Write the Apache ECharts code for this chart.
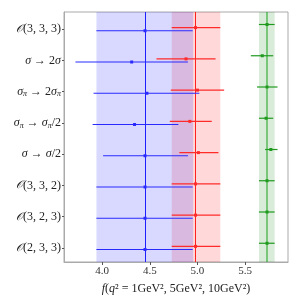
<!DOCTYPE html>
<html>
<head>
<meta charset="utf-8">
<script src="https://cdn.jsdelivr.net/npm/echarts@6/dist/echarts.min.js"></script>
<style>html,body{margin:0;padding:0;background:#fff}#c{width:300px;height:300px}</style>
</head>
<body>
<div id="c"></div>
<script>
// ---- data ----
const categories = ['O(3,3,3)', 'σ→2σ', 'σπ→2σπ', 'σπ→σπ/2', 'σ→σ/2', 'O(3,3,2)', 'O(3,2,3)', 'O(2,3,3)'];
const xTicks = [4.0, 4.5, 5.0, 5.5];

const blueVal = [4.45, 4.31, 4.47, 4.34, 4.45, 4.45, 4.45, 4.45];
const blueLo  = [3.94, 3.72, 3.91, 3.90, 4.01, 3.94, 3.94, 3.94];
const blueHi  = [4.95, 4.90, 5.02, 4.80, 4.90, 4.95, 4.95, 4.95];

const redVal = [4.98, 4.88, 5.00, 4.92, 5.01, 4.98, 4.98, 4.98];
const redLo  = [4.73, 4.57, 4.72, 4.71, 4.81, 4.73, 4.73, 4.73];
const redHi  = [5.24, 5.19, 5.28, 5.15, 5.22, 5.24, 5.24, 5.24];

const greenVal = [5.73, 5.68, 5.73, 5.72, 5.77, 5.73, 5.73, 5.73];
const greenLo  = [5.645, 5.56, 5.625, 5.645, 5.71, 5.645, 5.645, 5.645];
const greenHi  = [5.81, 5.795, 5.84, 5.795, 5.84, 5.81, 5.81, 5.81];

// reference bands [low, high] and central lines
const blueBand = [3.94, 4.955], blueLine = 4.45;
const redBand = [4.73, 5.24], redLine = 4.98;
const greenBand = [5.645, 5.81], greenLine = 5.73;

// ---- chart ----
const rowLabels = {
  'O(3,3,3)': '{o|𝒪}(3, 3, 3)',
  'σ→2σ': '{i|σ} → 2{i|σ}',
  'σπ→2σπ': '{i|σ}{s|π} → 2{i|σ}{s|π}',
  'σπ→σπ/2': '{i|σ}{s|π} → {i|σ}{s|π}/2',
  'σ→σ/2': '{i|σ} → {i|σ}/2',
  'O(3,3,2)': '{o|𝒪}(3, 3, 2)',
  'O(3,2,3)': '{o|𝒪}(3, 2, 3)',
  'O(2,3,3)': '{o|𝒪}(2, 3, 3)'
};
const serif = 'Liberation Serif';
function errSeries(name, vals, lo, hi, off, color, z) {
  return {
    type: 'custom', name, z,
    data: vals.map((v, i) => [lo[i], hi[i], i + off, v]),
    encode: { x: [0, 1], y: 2 },
    renderItem: (params, api) => {
      const a = api.coord([api.value(0), api.value(2)]);
      const b = api.coord([api.value(1), api.value(2)]);
      const c = api.coord([api.value(3), api.value(2)]);
      return { type: 'group', children: [
        { type: 'line', shape: { x1: a[0], y1: a[1], x2: b[0], y2: b[1] }, style: { stroke: color, lineWidth: 1.2 } },
        { type: 'rect', shape: { x: c[0] - 1.5, y: c[1] - 1.5, width: 3, height: 3 }, style: { fill: color } }
      ] };
    }
  };
}
function bandSeries(band, line, fill, lineColor, lineWidth, z) {
  return {
    type: 'line', data: [], z, silent: true,
    markArea: { silent: true, itemStyle: { color: fill }, data: [[{ xAxis: band[0] }, { xAxis: band[1] }]] },
    markLine: { silent: true, symbol: 'none', label: { show: false },
      lineStyle: { color: lineColor, width: lineWidth, type: 'solid' }, data: [{ xAxis: line }] }
  };
}
const chart = echarts.init(document.getElementById('c'), null, { renderer: 'canvas' });
chart.setOption({
  animation: false,
  grid: { left: 64, right: 12, top: 12, bottom: 38, show: true, borderColor: '#aaaaaa', borderWidth: 1 },
  xAxis: {
    type: 'value', min: 3.6, max: 5.95,
    name: '{i|f}({i|q}² = 1GeV², 5GeV², 10GeV²)',
    nameLocation: 'middle', nameGap: 21,
    nameTextStyle: { fontFamily: serif, fontSize: 12, color: '#222',
      rich: { i: { fontFamily: serif, fontStyle: 'italic', fontSize: 12, color: '#222' } } },
    axisLine: { show: true, onZero: false, lineStyle: { color: '#aaaaaa' } },
    axisTick: { show: true, length: 3, customValues: xTicks, lineStyle: { color: '#555' } },
    axisLabel: { customValues: xTicks, formatter: v => v.toFixed(1), fontFamily: serif, fontSize: 11, color: '#333', margin: 4 },
    splitLine: { show: false }
  },
  yAxis: {
    type: 'value', inverse: true, min: -0.55, max: 7.45,
    axisLine: { show: true, onZero: false, lineStyle: { color: '#aaaaaa' } },
    axisTick: { show: true, length: 2, customValues: categories.map((c, i) => i), lineStyle: { color: '#555' } },
    axisLabel: {
      customValues: categories.map((c, i) => i), margin: 3,
      formatter: v => rowLabels[categories[Math.round(v)]] || '',
      fontFamily: serif, fontSize: 12, color: '#222',
      rich: {
        o: { fontFamily: 'DejaVu Serif', fontSize: 11, color: '#222', fontStyle: 'italic' },
        i: { fontFamily: serif, fontStyle: 'italic', fontSize: 12, color: '#222' },
        s: { fontFamily: serif, fontStyle: 'italic', fontSize: 8, color: '#222', padding: [5, 0, 0, 0] }
      }
    },
    splitLine: { show: false }
  },
  series: [
    bandSeries(redBand, redLine, 'rgba(255,0,0,0.15)', '#ff2020', 1, 1),
    bandSeries(blueBand, blueLine, 'rgba(0,0,255,0.15)', '#2020ff', 1, 2),
    bandSeries(greenBand, greenLine, 'rgba(0,128,0,0.15)', 'rgba(0,150,0,0.45)', 2, 3),
    errSeries('blue', blueVal, blueLo, blueHi, 0.05, '#2a2aff', 5),
    errSeries('red', redVal, redLo, redHi, -0.05, '#ff2a2a', 6),
    errSeries('green', greenVal, greenLo, greenHi, -0.15, '#1f9a1f', 7)
  ]
});
</script>
</body>
</html>
